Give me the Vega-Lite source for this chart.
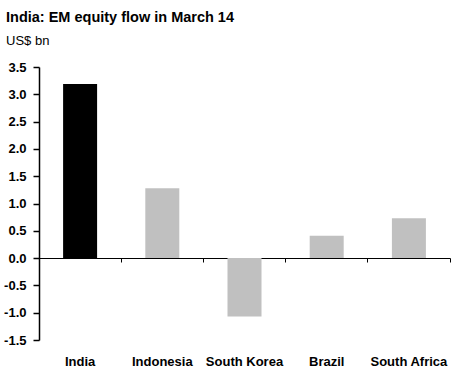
{
  "$schema": "https://vega.github.io/schema/vega-lite/v6.json",
  "width": 411,
  "height": 273,
  "autosize": "none",
  "padding": {"left": 39, "top": 67, "right": 19, "bottom": 31},
  "background": "white",
  "title": {
    "text": "India: EM equity flow in March 14",
    "subtitle": "US$ bn",
    "anchor": "start",
    "frame": "group",
    "dx": -33,
    "offset": 12,
    "font": "Liberation Sans",
    "fontSize": 14.5,
    "fontWeight": "bold",
    "color": "black",
    "subtitleFont": "Liberation Sans",
    "subtitleFontSize": 13,
    "subtitleColor": "black",
    "subtitlePadding": 10
  },
  "data": {
    "values": [
      {"country": "India", "value": 3.19, "group": "India"},
      {"country": "Indonesia", "value": 1.28, "group": "Other"},
      {"country": "South Korea", "value": -1.07, "group": "Other"},
      {"country": "Brazil", "value": 0.41, "group": "Other"},
      {"country": "South Africa", "value": 0.73, "group": "Other"}
    ]
  },
  "mark": {"type": "bar", "width": 34},
  "encoding": {
    "x": {
      "field": "country",
      "type": "nominal",
      "sort": null,
      "scale": {"paddingInner": 0, "paddingOuter": 0},
      "axis": {
        "title": null,
        "labelAngle": 0,
        "offset": -82,
        "bandPosition": 1,
        "ticks": true,
        "tickSize": 4,
        "tickColor": "black",
        "tickWidth": 1,
        "domainColor": "black",
        "domainWidth": 1,
        "labelPadding": 93,
        "labelFont": "Liberation Sans",
        "labelFontSize": 13,
        "labelFontWeight": "bold",
        "labelColor": "black"
      }
    },
    "y": {
      "field": "value",
      "type": "quantitative",
      "scale": {"domain": [-1.5, 3.5], "nice": false, "zero": false},
      "axis": {
        "title": null,
        "values": [-1.5, -1, -0.5, 0, 0.5, 1, 1.5, 2, 2.5, 3, 3.5],
        "labelExpr": "replace(format(datum.value, '.1f'), '\u2212', '-')",
        "grid": false,
        "domainColor": "black",
        "domainWidth": 1.5,
        "tickColor": "black",
        "tickSize": 6,
        "tickWidth": 1.5,
        "labelPadding": 7,
        "labelFont": "Liberation Sans",
        "labelFontSize": 13,
        "labelFontWeight": "bold",
        "labelColor": "black"
      }
    },
    "color": {
      "field": "group",
      "type": "nominal",
      "scale": {"domain": ["India", "Other"], "range": ["#000000", "#C0C0C0"]},
      "legend": null
    }
  },
  "config": {"view": {"stroke": null}}
}
